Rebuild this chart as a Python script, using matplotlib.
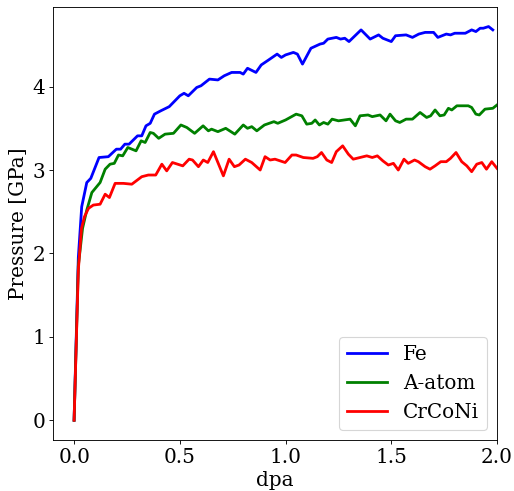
import matplotlib
matplotlib.use("Agg")
import matplotlib.pyplot as plt

plt.rcParams['font.family'] = ['DejaVu Serif']
plt.rcParams['font.size'] = 18

fe_x = [0.0, 0.02, 0.036, 0.06, 0.079, 0.118, 0.162, 0.2, 0.22, 0.24, 0.26, 0.30, 0.32, 0.34, 0.36,
        0.38, 0.41, 0.45, 0.50, 0.52, 0.54, 0.58, 0.60, 0.64, 0.68, 0.71, 0.745, 0.785, 0.80, 0.82,
        0.86, 0.885, 0.92, 0.96, 0.98, 1.0, 1.037, 1.056, 1.08, 1.12, 1.163, 1.18, 1.20, 1.24, 1.26,
        1.28, 1.30, 1.357, 1.40, 1.44, 1.46, 1.50, 1.52, 1.57, 1.60, 1.63, 1.66, 1.70, 1.72, 1.76,
        1.78, 1.80, 1.85, 1.88, 1.90, 1.92, 1.935, 1.96, 1.98]
fe_y = [0.0, 1.95, 2.56, 2.85, 2.90, 3.15, 3.16, 3.25, 3.25, 3.31, 3.31, 3.41, 3.41, 3.53, 3.56,
        3.67, 3.71, 3.76, 3.89, 3.92, 3.89, 3.99, 4.01, 4.09, 4.08, 4.13, 4.17, 4.17, 4.15, 4.22,
        4.17, 4.26, 4.32, 4.39, 4.35, 4.38, 4.41, 4.39, 4.27, 4.46, 4.51, 4.52, 4.57, 4.59, 4.57,
        4.58, 4.54, 4.68, 4.57, 4.62, 4.58, 4.54, 4.61, 4.62, 4.59, 4.63, 4.65, 4.65, 4.59, 4.63,
        4.62, 4.64, 4.64, 4.68, 4.66, 4.70, 4.70, 4.72, 4.68]

aa_x = [0.0, 0.02, 0.04, 0.06, 0.084, 0.123, 0.147, 0.17, 0.19, 0.21, 0.23, 0.254, 0.293, 0.317,
        0.336, 0.36, 0.375, 0.40, 0.43, 0.47, 0.505, 0.533, 0.57, 0.61, 0.635, 0.65, 0.68, 0.717,
        0.76, 0.80, 0.82, 0.84, 0.864, 0.90, 0.945, 0.963, 1.0, 1.05, 1.077, 1.10, 1.124, 1.14,
        1.16, 1.18, 1.20, 1.22, 1.25, 1.305, 1.33, 1.352, 1.39, 1.41, 1.447, 1.475, 1.494, 1.52,
        1.54, 1.57, 1.60, 1.636, 1.667, 1.686, 1.707, 1.73, 1.75, 1.77, 1.786, 1.81, 1.833, 1.864,
        1.88, 1.90, 1.916, 1.943, 1.98, 2.0]
aa_y = [0.0, 1.85, 2.30, 2.52, 2.73, 2.85, 3.01, 3.07, 3.08, 3.18, 3.17, 3.27, 3.23, 3.35,
        3.33, 3.45, 3.44, 3.38, 3.43, 3.44, 3.54, 3.51, 3.44, 3.53, 3.47, 3.49, 3.46, 3.50,
        3.43, 3.54, 3.50, 3.52, 3.47, 3.54, 3.58, 3.56, 3.60, 3.67, 3.65, 3.55, 3.56, 3.60,
        3.54, 3.57, 3.55, 3.61, 3.59, 3.61, 3.53, 3.65, 3.66, 3.64, 3.66, 3.59, 3.67, 3.59,
        3.57, 3.61, 3.61, 3.69, 3.63, 3.65, 3.72, 3.65, 3.66, 3.74, 3.72, 3.77, 3.77, 3.77,
        3.75, 3.67, 3.66, 3.73, 3.74, 3.78]

cr_x = [0.0, 0.02, 0.035, 0.049, 0.068, 0.091, 0.123, 0.147, 0.167, 0.194, 0.233, 0.273, 0.32,
        0.351, 0.386, 0.415, 0.438, 0.465, 0.514, 0.544, 0.56, 0.588, 0.611, 0.632, 0.659, 0.706,
        0.733, 0.758, 0.78, 0.81, 0.84, 0.88, 0.903, 0.927, 0.95, 0.998, 1.03, 1.05, 1.084, 1.13,
        1.15, 1.17, 1.195, 1.218, 1.24, 1.27, 1.297, 1.32, 1.352, 1.384, 1.41, 1.434, 1.46, 1.486,
        1.51, 1.533, 1.56, 1.58, 1.61, 1.628, 1.66, 1.683, 1.707, 1.734, 1.76, 1.78, 1.806, 1.833,
        1.857, 1.88, 1.904, 1.928, 1.95, 1.975, 2.0]
cr_y = [0.0, 1.80, 2.30, 2.44, 2.54, 2.58, 2.59, 2.71, 2.67, 2.84, 2.84, 2.83, 2.92,
        2.94, 2.94, 3.07, 2.99, 3.09, 3.05, 3.13, 3.12, 3.04, 3.12, 3.09, 3.22, 2.93,
        3.13, 3.04, 3.06, 3.13, 3.09, 3.00, 3.16, 3.12, 3.13, 3.09, 3.18, 3.18, 3.15, 3.14,
        3.16, 3.21, 3.12, 3.09, 3.22, 3.29, 3.19, 3.13, 3.15, 3.17, 3.15, 3.17, 3.11, 3.06,
        3.08, 3.00, 3.13, 3.08, 3.12, 3.10, 3.04, 3.01, 3.05, 3.10, 3.10, 3.14, 3.21, 3.10,
        3.05, 2.98, 3.07, 3.09, 3.01, 3.10, 3.02]

labels = ["Fe", "A-atom", "CrCoNi"]
colors = ["blue", "green", "red"]

DPI = 80
fig = plt.figure(figsize=(514 / DPI, 491 / DPI), dpi=DPI)
ax = fig.add_axes([0.103, 0.104, 0.864, 0.882])
for (x, y), lab, c in zip([(fe_x, fe_y), (aa_x, aa_y), (cr_x, cr_y)], labels, colors):
    ax.plot(x, y, color=c, lw=2.5, label=lab)
ax.set_xlim(-0.1, 2.0)
ax.set_xlabel("dpa")
ax.set_ylabel("Pressure [GPa]")
ax.legend(loc="lower right")
fig.savefig("out.png", dpi=DPI)
